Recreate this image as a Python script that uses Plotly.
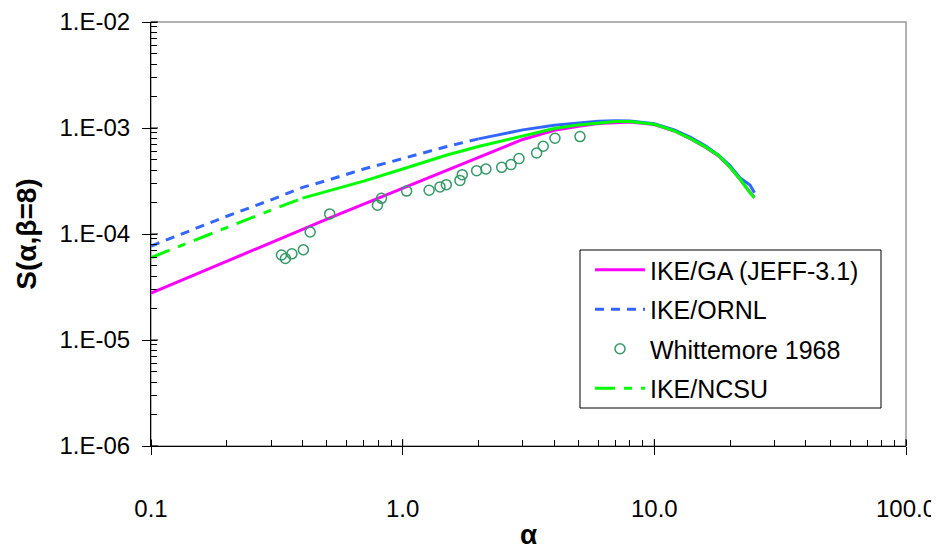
import math
import plotly.graph_objects as go

# ---------------- data ----------------
alpha = [0.1, 0.15, 0.2, 0.3, 0.4, 0.5, 0.7, 1.0, 1.5, 2.0, 3.0, 4.0, 5.0, 6.0,
         7.0, 8.0, 10.0, 12.0, 14.0, 16.0, 18.0, 20.0, 22.0, 24.0, 25.0]

s_ike_ga = [2.77e-5, 4.15e-5, 5.6e-5, 8.3e-5, 1.10e-4, 1.38e-4, 1.91e-4, 2.70e-4,
            4.0e-4, 5.2e-4, 7.8e-4, 9.5e-4, 1.04e-3, 1.10e-3, 1.13e-3, 1.14e-3,
            1.08e-3, 9.37e-4, 7.85e-4, 6.55e-4, 5.45e-4, 4.25e-4, 3.22e-4, 2.45e-4, 2.2e-4]

s_ike_ornl = [7.7e-5, 1.12e-4, 1.47e-4, 2.10e-4, 2.75e-4, 3.20e-4, 4.10e-4, 5.15e-4,
              6.7e-4, 7.9e-4, 9.6e-4, 1.06e-3, 1.12e-3, 1.16e-3, 1.17e-3, 1.165e-3,
              1.10e-3, 9.6e-4, 8.1e-4, 6.75e-4, 5.55e-4, 4.4e-4, 3.35e-4, 2.9e-4, 2.45e-4]

s_ike_ncsu = [6.0e-5, 8.7e-5, 1.15e-4, 1.68e-4, 2.18e-4, 2.52e-4, 3.15e-4, 4.10e-4,
              5.56e-4, 6.7e-4, 8.5e-4, 9.9e-4, 1.07e-3, 1.12e-3, 1.15e-3, 1.15e-3,
              1.085e-3, 9.4e-4, 7.9e-4, 6.6e-4, 5.5e-4, 4.27e-4, 3.25e-4, 2.45e-4, 2.2e-4]

w_alpha = [0.330, 0.342, 0.363, 0.403, 0.429, 0.513, 0.794, 0.824, 1.037, 1.274,
           1.407, 1.491, 1.689, 1.725, 1.968, 2.143, 2.474, 2.693, 2.899, 3.407,
           3.619, 4.028, 5.064]
w_s = [6.33e-5, 5.87e-5, 6.50e-5, 7.10e-5, 1.044e-4, 1.546e-4, 1.872e-4, 2.171e-4,
       2.540e-4, 2.585e-4, 2.783e-4, 2.920e-4, 3.204e-4, 3.629e-4, 3.959e-4, 4.101e-4,
       4.254e-4, 4.514e-4, 5.142e-4, 5.808e-4, 6.722e-4, 7.995e-4, 8.30e-4]

x_tickvals = [0.1, 1, 10, 100]
x_ticktext = ["0.1", "1.0", "10.0", "100.0"]
y_tickvals = [1e-6, 1e-5, 1e-4, 1e-3, 1e-2]
y_ticktext = ["1.E-06", "1.E-05", "1.E-04", "1.E-03", "1.E-02"]

# where the dashed look (sparse points) turns into an apparently solid line
ornl_split = alpha.index(2.0)
ncsu_split = alpha.index(0.4)

FONT = "Liberation Sans, Arial, sans-serif"
MAGENTA = "#FF00FF"
BLUE = "#3366FF"
GREEN = "#00FF00"
SEA = "#339966"

# figure size (the page body adds an 8px margin around the plot div)
W, H = 931, 542
ML, MR, MT, MB = 143, 33, 14, 104
PW, PH = W - ML - MR, H - MT - MB

fig = go.Figure()

fig.add_trace(go.Scatter(
    x=alpha, y=s_ike_ga, mode="lines", name="IKE/GA (JEFF-3.1)",
    legendgroup="ga", line=dict(color=MAGENTA, width=3)))

fig.add_trace(go.Scatter(
    x=alpha[:ornl_split + 1], y=s_ike_ornl[:ornl_split + 1], mode="lines",
    name="IKE/ORNL", legendgroup="ornl",
    line=dict(color=BLUE, width=3, dash="9px,7px")))
fig.add_trace(go.Scatter(
    x=alpha[ornl_split:], y=s_ike_ornl[ornl_split:], mode="lines",
    name="IKE/ORNL", legendgroup="ornl", showlegend=False,
    line=dict(color=BLUE, width=3)))

fig.add_trace(go.Scatter(
    x=w_alpha, y=w_s, mode="markers", name="Whittemore 1968",
    legendgroup="whit",
    marker=dict(symbol="circle-open", size=10, color=SEA, line=dict(width=1.5, color=SEA))))

fig.add_trace(go.Scatter(
    x=alpha[:ncsu_split + 1], y=s_ike_ncsu[:ncsu_split + 1], mode="lines",
    name="IKE/NCSU", legendgroup="ncsu",
    line=dict(color=GREEN, width=3, dash="20px,9px,8px,9px")))
fig.add_trace(go.Scatter(
    x=alpha[ncsu_split:], y=s_ike_ncsu[ncsu_split:], mode="lines",
    name="IKE/NCSU", legendgroup="ncsu", showlegend=False,
    line=dict(color=GREEN, width=3)))

x_lo, x_hi = -1, 2
y_lo, y_hi = -6, -2

# legend box (figure pixels)
LB_L, LB_T, LB_R, LB_B = 572, 242, 873, 400

shapes = [
    dict(type="rect", xref="paper", yref="paper", x0=0, x1=1, y0=0, y1=1,
         line=dict(color="#999999", width=1.5), layer="below"),
    dict(type="rect", xref="paper", yref="paper",
         x0=(LB_L - ML) / PW, x1=(LB_R - ML) / PW,
         y0=(MT + PH - LB_B) / PH, y1=(MT + PH - LB_T) / PH,
         line=dict(color="black", width=1), fillcolor="white", layer="below"),
]
# inner half of the major ticks (the ticks cross the axis line)
for v in x_tickvals:
    px = (math.log10(v) - x_lo) / (x_hi - x_lo)
    shapes.append(dict(type="line", xref="paper", yref="paper", ysizemode="pixel",
                       yanchor=0, x0=px, x1=px, y0=0, y1=7,
                       line=dict(color="black", width=1)))
for v in y_tickvals:
    py = (math.log10(v) - y_lo) / (y_hi - y_lo)
    shapes.append(dict(type="line", xref="paper", yref="paper", xsizemode="pixel",
                       xanchor=0, y0=py, y1=py, x0=0, x1=7,
                       line=dict(color="black", width=1)))

fig.update_layout(
    width=W, height=H,
    margin=dict(l=ML, r=MR, t=MT, b=MB, autoexpand=False),
    paper_bgcolor="white", plot_bgcolor="white",
    font=dict(family=FONT, color="black", size=24),
    showlegend=True,
    legend=dict(
        xref="container", yref="container", x=582 / W, y=1 - 239 / H,
        xanchor="left", yanchor="top",
        bgcolor="rgba(0,0,0,0)", borderwidth=0,
        font=dict(family=FONT, size=25, color="black"),
        itemwidth=50, tracegroupgap=4, traceorder="grouped",
    ),
    shapes=shapes,
    xaxis=dict(
        type="log", range=[x_lo, x_hi], showgrid=False, zeroline=False,
        showline=True, linecolor="black", linewidth=1,
        ticks="outside", ticklen=8, tickcolor="black",
        tickvals=x_tickvals, ticktext=x_ticktext,
        tickfont=dict(size=24, family=FONT), ticklabelstandoff=33,
        minor=dict(ticks="inside", ticklen=6, tickcolor="black", dtick="D1", showgrid=False),
        title=dict(text="<b>α</b>", font=dict(size=28, family=FONT), standoff=4),
    ),
    yaxis=dict(
        type="log", range=[y_lo, y_hi], showgrid=False, zeroline=False,
        showline=True, linecolor="black", linewidth=1,
        ticks="outside", ticklen=8, tickcolor="black",
        tickvals=y_tickvals, ticktext=y_ticktext,
        tickfont=dict(size=24, family=FONT), ticklabelstandoff=7,
        minor=dict(ticks="inside", ticklen=6, tickcolor="black", dtick="D1", showgrid=False),
        title=dict(text="<b>S(α,β=8)</b>", font=dict(size=28, family=FONT), standoff=14),
    ),
)

fig.write_html("out.html")
